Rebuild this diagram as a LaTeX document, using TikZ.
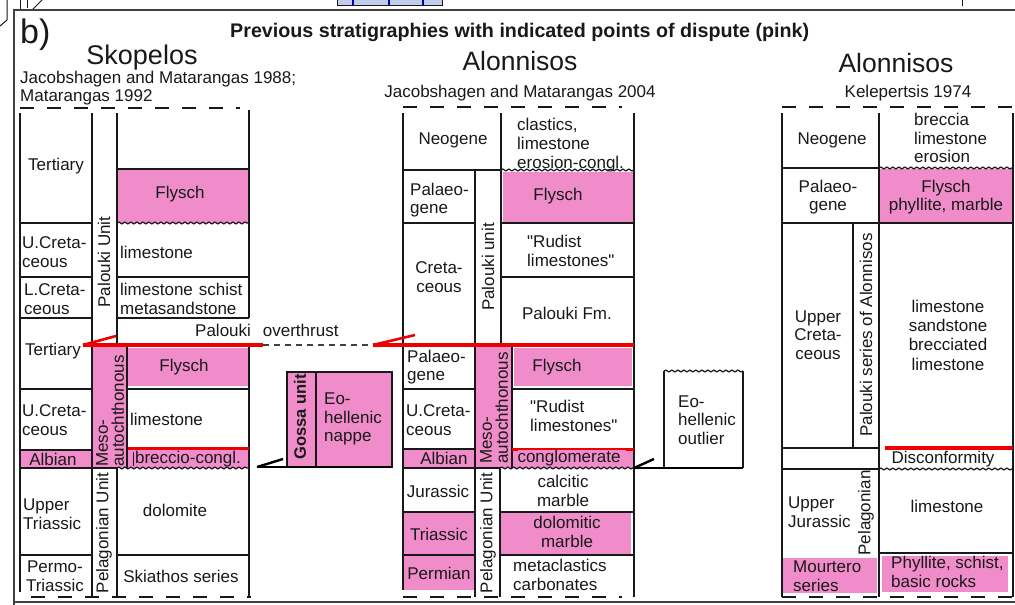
\documentclass[tikz,border=0pt]{standalone}
\usepackage{fontspec}
\setmainfont{Liberation Sans}[Ligatures=TeXOff]
\usetikzlibrary{decorations.pathmorphing}
\definecolor{pk}{RGB}{240,140,202}
\definecolor{rd}{RGB}{238,0,0}
\definecolor{ink}{RGB}{25,25,25}
\definecolor{lightblue}{RGB}{196,204,238}
\begin{document}
\begin{tikzpicture}[x=1pt,y=-1pt,
  ln/.style={line width=1.3pt, ink},
  dsh/.style={line width=2.8pt, ink, dash pattern=on 14pt off 13pt},
  wv/.style={line width=1.2pt, ink, decorate, decoration={snake, amplitude=0.9pt, segment length=6pt}},
  t/.style={inner sep=0pt, font=\fontsize{17}{18.7}\selectfont, align=center, text=ink},
  tl/.style={t, align=left},
  rt/.style={t, rotate=90},
  thr/.style={line width=3.6pt, rd},
  barb/.style={line width=2.6pt, rd},
  bthr/.style={line width=2.8pt, black},
  bbarb/.style={line width=2.4pt, black},
]
\useasboundingbox (0,0) rectangle (1015,605);
\fill[white] (0,0) rectangle (1015,605);

% ---------- remnants of the panel above and frame ----------
\draw[line width=1pt, ink] (7,-1) -- (7,20) -- (0,26);
\draw[line width=1pt, ink] (20,-1) -- (20,10);
\draw[line width=1pt, ink] (27,-1) -- (27,8);
\draw[line width=1pt, ink] (32,10) -- (43,-1);
\draw[line width=1pt, ink, fill=lightblue] (337,-2) rectangle (442,5);
\foreach \x in {353,389,423} \draw[line width=1.4pt, blue!70!black] (\x,-1) -- (\x,5);
\draw[line width=1pt, ink] (962,-1) -- (962,6);
\draw[line width=1.2pt, black!75] (14,606) -- (14,10) -- (1016,10);
\draw[line width=1.4pt, black!75] (14,602) -- (1016,602);

% ---------- titles ----------
\node[anchor=base west, inner sep=0pt, text=ink, font=\fontsize{34}{34}\selectfont] (lblb) at (20,43) {b)};
\node[anchor=base west, inner sep=0pt, text=ink, font=\bfseries\fontsize{19.7}{20}\selectfont] (title) at (230,37) {Previous stratigraphies with indicated points of dispute (pink)};
\node[anchor=base, inner sep=0pt, text=ink, font=\fontsize{27}{27}\selectfont] (hsk) at (142,64) {Skopelos};
\node[anchor=base west, t] (ssub1) at (20,83) {Jacobshagen and Matarangas 1988;};
\node[anchor=base west, t] (ssub2) at (20,101) {Matarangas 1992};
\node[anchor=base, inner sep=0pt, text=ink, font=\fontsize{26.5}{27}\selectfont] (hal1) at (520,70) {Alonnisos};
\node[anchor=base, t] (asub1) at (520,97) {Jacobshagen and Matarangas 2004};
\node[anchor=base, inner sep=0pt, text=ink, font=\fontsize{26.5}{27}\selectfont] (hal2) at (896,72) {Alonnisos};
\node[anchor=base, t] (asub2) at (908,97) {Kelepertsis 1974};

% ================= SKOPELOS =================
\fill[pk] (117,169) rectangle (249,223);
\fill[pk] (93,345) rectangle (126,468);
\fill[pk] (128,348) rectangle (248,386);
\fill[pk] (20,450) rectangle (92,468);
\fill[pk] (127,448) rectangle (249,468);
\draw[dsh] (20,108) -- (240,108);
\draw[dsh] (31,597) -- (251,597);
\draw[ln] (20,113) -- (20,592);
\draw[ln] (92,113) -- (92,597);
\draw[ln] (117,113) -- (117,345);
\draw[ln] (127,345) -- (127,468);
\draw[ln] (117,468) -- (117,597);
\draw[ln] (249,110) -- (249,318);
\draw[ln] (249,345) -- (249,597);
\foreach \y in {223,277,318,389,450,555} \draw[ln] (20,\y) -- (92,\y);
\draw[ln] (20,468) -- (117,468);
\draw[ln] (117,169) -- (249,169);
\draw[wv] (117,223) -- (249,223);
\draw[ln] (117,277) -- (249,277);
\draw[ln] (117,318) -- (249,318);
\draw[ln] (127,389) -- (249,389);
\draw[line width=3pt, rd] (128,448) -- (249,448);
\draw[wv] (117,468) -- (249,468);
\draw[ln] (117,555) -- (249,555);
\draw[line width=0.8pt, ink] (133,452) -- (133,466);

\node[t] (sk1) at (56,166) {Tertiary};
\node[t] (sk2) at (180,194) {Flysch};
\node[tl, anchor=west] (sk3) at (22,252) {U.Creta-\\ceous};
\node[tl, anchor=west] (sk4) at (120,252) {limestone};
\node[tl, anchor=west] (sk5) at (24,299) {L.Creta-\\ceous};
\node[tl, anchor=west] (sk6) at (120,299) {limestone\hspace{6pt}schist\\metasandstone};
\node[rt] (sk7) at (104,262) {Palouki Unit};
\node[anchor=base west, t] (sk8) at (195,336) {Palouki\hspace{12pt}overthrust};
\node[t] (sk9) at (53,351) {Tertiary};
\node[t, rotate=90, align=left, anchor=west, font=\fontsize{17}{16}\selectfont] (sk10) at (110,467) {Meso-\\autochthonous};
\node[t] (sk11) at (184,367) {Flysch};
\node[tl, anchor=west] (sk12) at (22,420) {U.Creta-\\ceous};
\node[tl, anchor=west] (sk13) at (130,419) {limestone};
\node[t] (sk14) at (53,459) {Albian};
\node[t] (sk15) at (188,459) {breccio-congl.};
\node[tl, anchor=west] (sk16) at (23,514) {Upper\\Triassic};
\node[t] (sk17) at (175,510) {dolomite};
\node[rt] (sk18) at (104,533) {Pelagonian Unit};
\node[t] (sk19) at (55,576) {Permo-\\Triassic};
\node[t] (sk20) at (181,576) {Skiathos series};

% ================= GOSSA / EO-HELLENIC NAPPE =================
\fill[pk] (287,372) rectangle (392,467);
\draw[ln] (287,372) rectangle (392,467);
\draw[ln] (316,372) -- (316,467);
\node[rt, font=\bfseries\fontsize{16.5}{18}\selectfont] (gossa) at (300,417) {Gossa unit};
\node[tl, anchor=west] (eon) at (324,419) {Eo-\\hellenic\\nappe};
\coordinate (gtip) at (257,467);
\coordinate (gend) at (392,467);
\draw[bthr] (gtip) -- (gend);
\draw[bbarb] (gtip) -- (283,459);

% ================= ALONNISOS (Jacobshagen & Matarangas 2004) =================
\fill[pk] (503,172) rectangle (634,223);
\fill[pk] (476,345) rectangle (512,468);
\fill[pk] (514,348) rectangle (632,386);
\fill[pk] (403,449) rectangle (475,468);
\fill[pk] (512,449) rectangle (634,468);
\fill[pk] (403,512) rectangle (475,555);
\fill[pk] (501,513) rectangle (631,554);
\fill[pk] (403,555) rectangle (475,590);
\draw[dsh] (403,107) -- (622,107);
\draw[dsh] (403,597) -- (622,597);
\draw[ln] (403,113) -- (403,590);
\draw[ln] (501,113) -- (501,170);
\draw[ln] (475,170) -- (475,597);
\draw[ln] (501,170) -- (501,345);
\draw[ln] (512,345) -- (512,468);
\draw[ln] (500,468) -- (500,597);
\draw[ln] (634,113) -- (634,597);
\draw[ln] (403,170) -- (501,170);
\draw[wv] (501,170) -- (634,170);
\foreach \y in {223,389,449,512,555} \draw[ln] (403,\y) -- (475,\y);
\draw[ln] (403,468) -- (500,468);
\draw[ln] (501,223) -- (634,223);
\draw[ln] (501,277) -- (634,277);
\draw[ln] (512,389) -- (634,389);
\draw[line width=1.8pt, rd] (512,449) -- (634,449);
\draw[line width=3pt, rd] (512,449) -- (518,449);
\draw[line width=3pt, rd] (626,449) -- (634,449);
\draw[wv] (500,468) -- (634,468);
\draw[ln] (500,512) -- (634,512);
\draw[ln] (500,555) -- (634,555);

\node[t] (m1) at (453,140) {Neogene};
\node[tl, anchor=west] (m2) at (517,145) {clastics,\\limestone\\erosion-congl.};
\node[tl, anchor=west] (m3) at (410,200) {Palaeo-\\gene};
\node[t] (m4) at (558,196) {Flysch};
\node[t] (m5) at (439,277) {Creta-\\ceous};
\node[rt] (m6) at (488,267) {Palouki unit};
\node[tl, anchor=west] (m7) at (527,251) {"Rudist\\limestones"};
\node[t] (m8) at (567,313) {Palouki Fm.};
\node[tl, anchor=west] (m9) at (407,367) {Palaeo-\\gene};
\node[t] (m10) at (557,367) {Flysch};
\node[t, rotate=90, align=left, anchor=west, font=\fontsize{17}{16}\selectfont] (m11) at (494,464) {Meso-\\autochthonous};
\node[tl, anchor=west] (m12) at (406,420) {U.Creta-\\ceous};
\node[tl, anchor=west] (m13) at (530,416) {"Rudist\\limestones"};
\node[t] (m14) at (444,458) {Albian};
\node[t] (m15) at (569,458) {conglomerate};
\node[t] (m16) at (438,491) {Jurassic};
\node[t] (m17) at (563,491) {calcitic\\marble};
\node[t] (m18) at (439,534) {Triassic};
\node[t] (m19) at (567,532) {dolomitic\\marble};
\node[t] (m20) at (439,573) {Permian};
\node[tl, anchor=west] (m21) at (513,575) {metaclastics\\carbonates};
\node[rt] (m22) at (488,533) {Pelagonian Unit};

% ---------- Palouki overthrust ----------
\coordinate (sA) at (83,345);
\coordinate (sB) at (263,345);
\coordinate (mA) at (373,345);
\coordinate (mB) at (634,345);
\draw[line width=1.2pt, black!75, dash pattern=on 6pt off 5pt] (sB) -- (mA);
\draw[thr] (sA) -- (sB);
\draw[barb] (sA) -- (116,336);
\draw[thr] (mA) -- (mB);
\draw[barb] (mA) -- (415,335);

% ================= EO-HELLENIC OUTLIER =================
\draw[ln] (664,371) -- (664,468);
\draw[ln] (743,371) -- (743,468);
\draw[wv] (664,371) -- (743,371);
\node[tl, anchor=west] (eoo) at (678,420) {Eo-\\hellenic\\outlier};
\coordinate (otip) at (634,468);
\coordinate (oend) at (743,468);
\draw[bthr] (otip) -- (oend);
\draw[bbarb] (otip) -- (654,459);

% ================= ALONNISOS (Kelepertsis 1974) =================
\fill[pk] (879,169) rectangle (1013,223);
\fill[pk] (783,558) rectangle (877,593);
\fill[pk] (882,556) rectangle (1008,592);
\draw[dsh] (782,107) -- (1016,107);
\draw[dsh] (782,597) -- (1012,597);
\draw[ln] (782,113) -- (782,597);
\draw[ln] (879,113) -- (879,597);
\draw[ln] (853,223) -- (853,448);
\draw[ln] (1013,113) -- (1013,597);
\foreach \y in {168,223,448,469} \draw[ln] (782,\y) -- (879,\y);
\draw[wv] (879,168) -- (1013,168);
\draw[ln] (879,223) -- (1013,223);
\draw[line width=3.2pt, rd] (885,448) -- (1013,448);
\draw[wv] (879,469) -- (1013,469);
\draw[ln] (879,553) -- (1013,553);

\node[t] (r1) at (832,140) {Neogene};
\node[tl, anchor=west] (r2) at (914,138) {breccia\\limestone\\erosion};
\node[t] (r3) at (828,197) {Palaeo-\\gene};
\node[t] (r4) at (946,197) {Flysch\\phyllite, marble};
\node[t] (r5) at (818,335) {Upper\\Creta-\\ceous};
\node[rt] (r6) at (866,335) {Palouki series of Alonnisos};
\node[t, font=\fontsize{17}{19.3}\selectfont] (r7) at (948,335) {limestone\\sandstone\\brecciated\\limestone};
\node[t] (r8) at (943,459) {Disconformity};
\node[tl, anchor=west] (r9) at (788,512) {Upper\\Jurassic};
\node[rt] (r10) at (866,513) {Pelagonian};
\node[t] (r11) at (947,506) {limestone};
\node[tl, anchor=west] (r12) at (793,576) {Mourtero\\series};
\node[tl, anchor=west] (r13) at (891,572) {Phyllite, schist,\\basic rocks};
\end{tikzpicture}
\end{document}
